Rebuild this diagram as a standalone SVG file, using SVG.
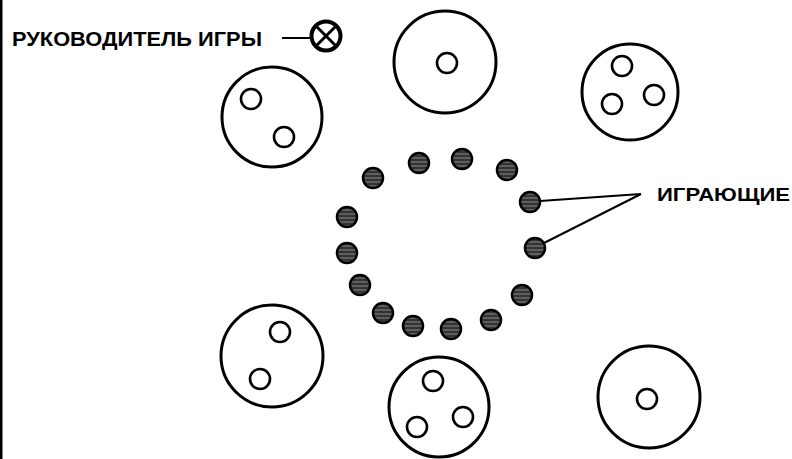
<svg xmlns="http://www.w3.org/2000/svg" width="792" height="459" viewBox="0 0 792 459">
<style>
.big{fill:none;stroke:#000;stroke-width:3}
.sm{fill:#fff;stroke:#000;stroke-width:2.6}
.pl{fill:url(#hatch);stroke:#000;stroke-width:2.5}
.lbl{font-family:"Liberation Sans",Arial,sans-serif;font-weight:bold;fill:#000}
.lead{stroke:#000;stroke-width:2;fill:none}
</style>
<defs>
<pattern id="hatch" patternUnits="userSpaceOnUse" width="6" height="4">
<rect width="6" height="4" fill="#333"/>
<rect y="1.5" width="6" height="1" fill="#888"/>
</pattern>
</defs>
<rect width="792" height="459" fill="#fff"/>
<rect x="0" y="0" width="2.5" height="459" fill="#000"/>
<g id="leader">
<text class="lbl" x="12" y="46" font-size="20" textLength="250" lengthAdjust="spacingAndGlyphs">РУКОВОДИТЕЛЬ ИГРЫ</text>
<line class="lead" x1="282" y1="38" x2="311" y2="38" stroke-width="3"/>
<circle cx="326" cy="36" r="14.5" fill="#fff" stroke="#000" stroke-width="4"/>
<line x1="316" y1="26" x2="336" y2="46" stroke="#000" stroke-width="3"/>
<line x1="336" y1="26" x2="316" y2="46" stroke="#000" stroke-width="3"/>
</g>
<g id="group-top-left">
<circle class="big" cx="272" cy="117" r="50"/>
<circle class="sm" cx="251" cy="99" r="10"/>
<circle class="sm" cx="284" cy="137" r="10"/>
</g>
<g id="group-top-center">
<circle class="big" cx="445" cy="62" r="51"/>
<circle class="sm" cx="447" cy="63" r="10"/>
</g>
<g id="group-top-right">
<circle class="big" cx="630" cy="92" r="48"/>
<circle class="sm" cx="622" cy="66" r="10"/>
<circle class="sm" cx="612" cy="104" r="10"/>
<circle class="sm" cx="654" cy="95" r="10"/>
</g>
<g id="group-bottom-left">
<circle class="big" cx="272" cy="356" r="51"/>
<circle class="sm" cx="280" cy="332" r="10"/>
<circle class="sm" cx="260" cy="379" r="10"/>
</g>
<g id="group-bottom-center">
<circle class="big" cx="439" cy="407" r="50"/>
<circle class="sm" cx="433" cy="381" r="10"/>
<circle class="sm" cx="417" cy="427" r="10"/>
<circle class="sm" cx="463" cy="417" r="10"/>
</g>
<g id="group-bottom-right">
<circle class="big" cx="649" cy="397" r="51"/>
<circle class="sm" cx="647" cy="399" r="10"/>
</g>
<g id="players">
<circle class="pl" cx="373" cy="178" r="10"/>
<circle class="pl" cx="419" cy="163" r="10"/>
<circle class="pl" cx="462" cy="159" r="10"/>
<circle class="pl" cx="507" cy="170" r="10"/>
<circle class="pl" cx="530" cy="202" r="10"/>
<circle class="pl" cx="535" cy="248" r="10"/>
<circle class="pl" cx="522" cy="295" r="10"/>
<circle class="pl" cx="491" cy="320" r="10"/>
<circle class="pl" cx="451" cy="329" r="10"/>
<circle class="pl" cx="413" cy="326" r="10"/>
<circle class="pl" cx="383" cy="313" r="10"/>
<circle class="pl" cx="360" cy="285" r="10"/>
<circle class="pl" cx="347" cy="253" r="10"/>
<circle class="pl" cx="347" cy="217" r="10"/>
</g>
<g id="connectors">
<line class="lead" x1="540" y1="201" x2="641" y2="194"/>
<line class="lead" x1="544" y1="243" x2="641" y2="194"/>
</g>
<g id="label-players">
<text class="lbl" x="657" y="201" font-size="18" textLength="133" lengthAdjust="spacingAndGlyphs">ИГРАЮЩИЕ</text>
</g>
</svg>
